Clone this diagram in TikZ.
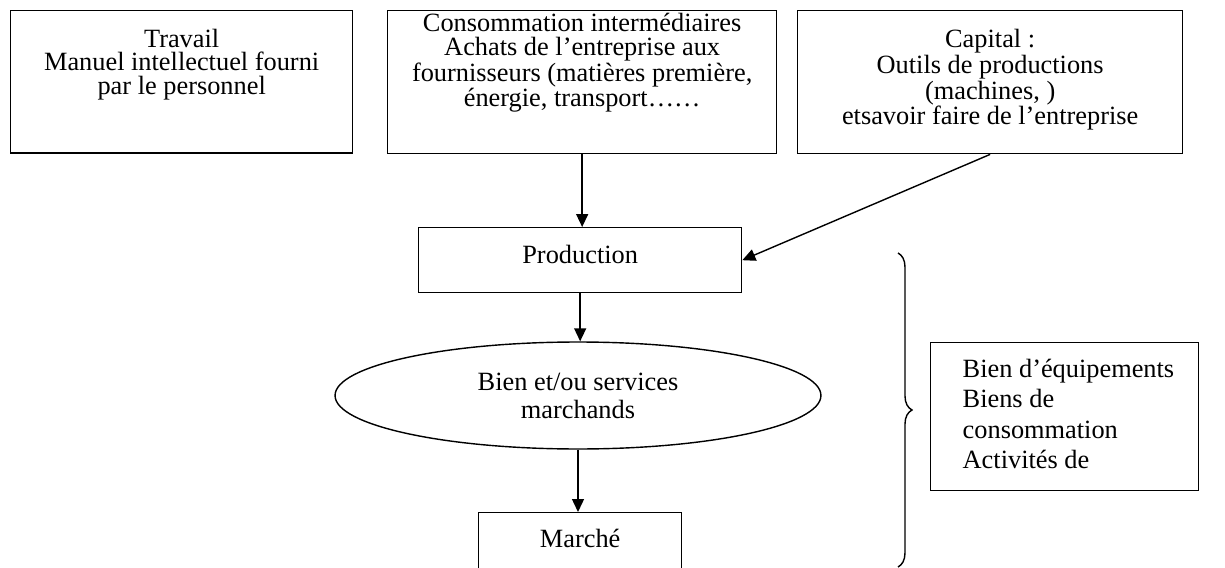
\documentclass[tikz,border=0pt]{standalone}
\usepackage{fontspec}
\setmainfont{Liberation Serif}
\usepackage{tikz}
\usetikzlibrary{shapes.geometric, arrows.meta, positioning, decorations.pathreplacing}

\begin{document}
\begin{tikzpicture}[x=0.02cm, y=-0.02cm,
        box/.style={draw, rectangle, line width=0.8pt, inner sep=0pt, align=flush center, anchor=north west, font=\fontsize{15}{13.4}\selectfont},
        flow/.style={-{Triangle[length=0.26cm, width=0.24cm]}, line width=0.8pt}]
        \useasboundingbox (0,0) rectangle (1225,568);
        \node[box, text width=6.84cm, text height=0.73cm, text depth=2.12cm] (travail) at (10,10) {Travail\\Manuel intellectuel fourni\\par le personnel};
        \node[box, text width=7.78cm, text height=0.42cm, text depth=2.44cm] (conso) at (387,10) {Consommation intermédiaires\\Achats de l’entreprise aux\\fournisseurs (matières première,\\énergie, transport……};
        \node[box, text width=7.7cm, text height=0.74cm, text depth=2.12cm] (capital) at (797,10) {Capital :\\Outils de productions\\(machines, )\\etsavoir faire de l’entreprise};
        \node[box, text width=6.46cm, text height=0.72cm, text depth=0.58cm] (prod) at (418,227) {Production};
        \node[draw, ellipse, line width=0.8pt, minimum width=9.72cm, minimum height=2.14cm, inner sep=0pt, align=flush center, font=\fontsize{15}{15.9}\selectfont] (biens) at (578,395.5) {Bien et/ou services\\marchands};
        \node[box, text width=4.06cm, text height=0.7cm, text depth=0.8cm] (marche) at (478,512) {Marché};
        \node[box, align=flush left, inner xsep=0.64cm, text width=4.08cm, text height=0.69cm, text depth=2.27cm, font=\fontsize{15}{17.35}\selectfont] (types) at (930,342) {\mbox{Bien d’équipements}\\Biens de\\consommation\\Activités de};
        \draw[flow] (conso.south) -- (conso.south |- prod.north);
        \draw[flow] (capital.south) -- (prod.east);
        \draw[flow] (prod.south) -- (prod.south |- biens.north);
        \draw[flow] (biens.south) -- (biens.south |- marche.north);
        \coordinate (accol_haut) at (898,253);
        \coordinate (accol_bas) at (898,567);
        \draw[line width=0.8pt, decorate, decoration={brace, amplitude=0.28cm}] (accol_haut) -- (accol_bas);
    \end{tikzpicture}
\end{document}
